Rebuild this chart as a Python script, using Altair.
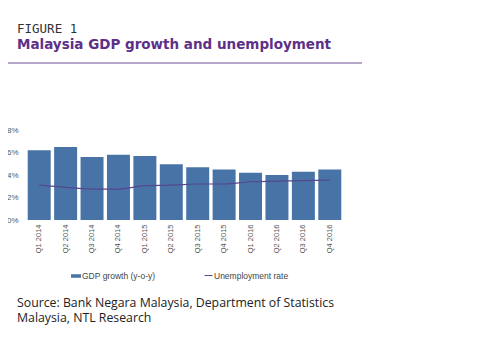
import altair as alt
import pandas as pd

quarters = ["Q1 2014", "Q2 2014", "Q3 2014", "Q4 2014",
            "Q1 2015", "Q2 2015", "Q3 2015", "Q4 2015",
            "Q1 2016", "Q2 2016", "Q3 2016", "Q4 2016"]
gdp_growth = [6.2, 6.5, 5.6, 5.8, 5.7, 4.95, 4.7, 4.5, 4.2, 4.0, 4.3, 4.5]
unemployment = [3.1, 2.9, 2.75, 2.75, 3.05, 3.1, 3.2, 3.2, 3.4, 3.45, 3.5, 3.55]
y_ticks = [0, 2, 4, 6, 8]

series_bar = "GDP growth (y-o-y)"
series_line = "Unemployment rate"
fig_label = "FIGURE 1"
title_text = "Malaysia GDP growth and unemployment"
source_lines = ["Source: Bank Negara Malaysia, Department of Statistics",
                "Malaysia, NTL Research"]

df = pd.DataFrame({
    "quarter": quarters,
    "gdp": gdp_growth,
    "unemp": unemployment,
    "s_bar": [series_bar] * len(quarters),
    "s_line": [series_line] * len(quarters),
})

BAR = "#4873a6"
LINE = "#56478f"
PURPLE = "#5e2f88"
LABEL = "#555555"

W, H = 317, 90

yaxis = alt.Axis(values=y_ticks, labelExpr="datum.value + '%'", grid=False,
                 ticks=False, domain=False, labelFont="Liberation Sans",
                 labelFontSize=8, labelColor=LABEL, labelPadding=8,
                 labelOverlap=False, tickCount=5)

xenc = alt.X("quarter:N", sort=quarters, title=None,
             scale=alt.Scale(paddingInner=0.13, paddingOuter=0.065),
             axis=alt.Axis(labelAngle=270, labelFont="Liberation Sans", labelFontSize=7.5,
                           labelColor=LABEL, ticks=False, domain=False, labelPadding=4,
                           labelOverlap=False))

bars = alt.Chart(df).mark_bar(color=BAR).encode(
    x=xenc,
    y=alt.Y("gdp:Q", title=None, scale=alt.Scale(domain=[0, 8], nice=False), axis=yaxis),
    color=alt.Color("s_bar:N", scale=alt.Scale(domain=[series_bar], range=[BAR]),
                    legend=alt.Legend(orient="none", legendX=45, legendY=141, title=None,
                                      symbolType="M-1,-0.35H1V0.35H-1Z", symbolSize=100,
                                      symbolStrokeWidth=0, labelOffset=1,
                                      labelFont="Liberation Sans", labelFontSize=8.5,
                                      labelColor="#444444", padding=0)),
)

line = alt.Chart(df).mark_line(interpolate="monotone", strokeWidth=1.2).encode(
    x=alt.X("quarter:N", sort=quarters),
    y=alt.Y("unemp:Q", title=None, axis=yaxis),
    stroke=alt.Stroke("s_line:N", scale=alt.Scale(domain=[series_line], range=[LINE]),
                      legend=alt.Legend(orient="none", legendX=178, legendY=141, title=None,
                                        symbolType="stroke", symbolSize=64,
                                        symbolStrokeWidth=1, labelOffset=1,
                                        labelFont="Liberation Sans", labelFontSize=8.5,
                                        labelColor="#444444", padding=0)),
)


def one(text):
    return alt.Chart(pd.DataFrame({"t": [text]}))


fig_txt = one(fig_label).mark_text(font="DejaVu Sans Mono", fontSize=12.5,
                                   color="#333333", align="left", baseline="alphabetic").encode(
    text="t:N", x=alt.value(-9), y=alt.value(-97.5))
title_txt = one(title_text).mark_text(font="DejaVu Sans", fontWeight="bold",
                                      fontSize=13.5, color=PURPLE, align="left",
                                      baseline="alphabetic").encode(
    text="t:N", x=alt.value(-9), y=alt.value(-81))
rule = one("").mark_rule(color="#6d4d93", strokeWidth=1).encode(
    x=alt.value(-23), x2=alt.value(336), y=alt.value(-67))
src1 = one(source_lines[0]).mark_text(font="Open Sans", fontSize=12.3,
                                      color="#222222", align="left", baseline="alphabetic").encode(
    text="t:N", x=alt.value(-9), y=alt.value(176.5))
src2 = one(source_lines[1]).mark_text(font="Open Sans", fontSize=12.3,
                                      color="#222222", align="left", baseline="alphabetic").encode(
    text="t:N", x=alt.value(-9), y=alt.value(192))

chart = alt.layer(bars, line, fig_txt, title_txt, rule, src1, src2).resolve_scale(
    color="independent"
).properties(
    width=W, height=H,
    autosize=alt.AutoSizeParams(type="none"),
    padding={"left": 18, "top": 122, "right": 128, "bottom": 131},
    background="white",
).configure_view(stroke=None)

chart.save("out.html", embed_options={"renderer": "svg", "actions": False})
